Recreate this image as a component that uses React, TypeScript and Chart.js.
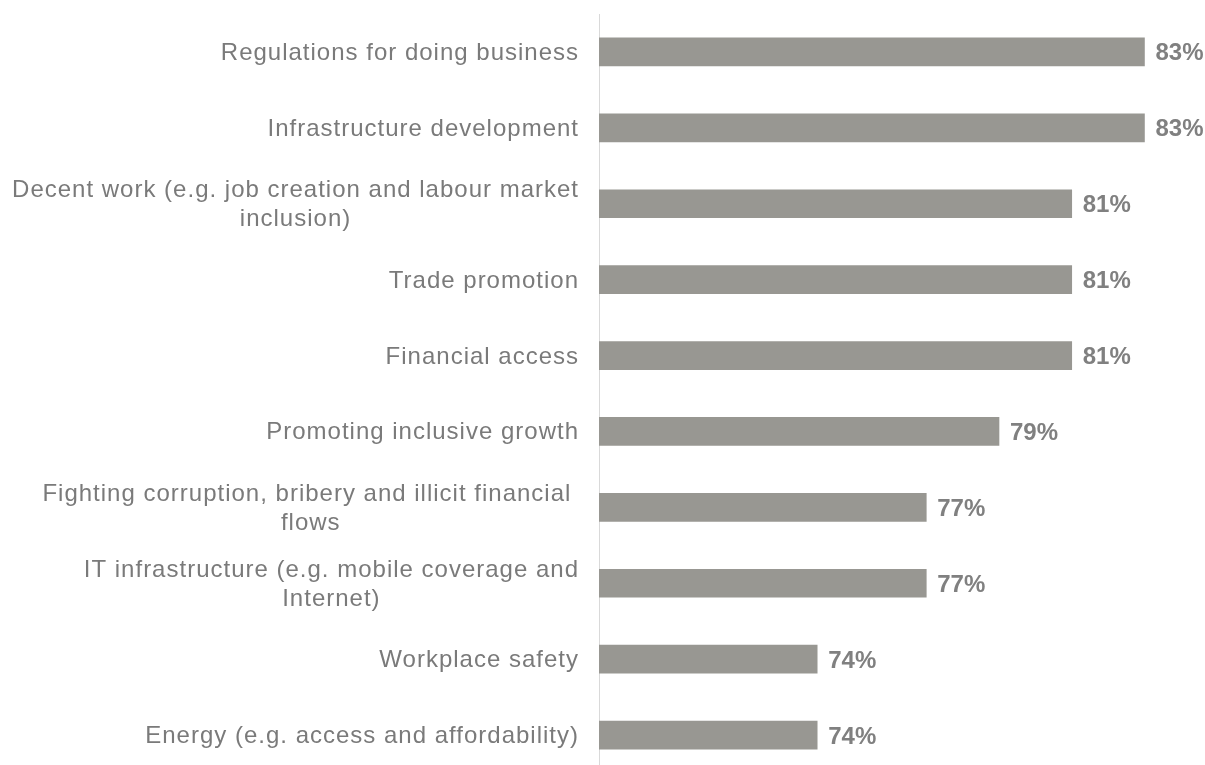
import React, { useEffect, useRef } from "react";
import { Chart, registerables } from "chart.js";

Chart.register(...registerables);

const categories: string[][] = [
  ["Regulations for doing business"],
  ["Infrastructure development"],
  ["Decent work (e.g. job creation and labour market", "inclusion)"],
  ["Trade promotion"],
  ["Financial access"],
  ["Promoting inclusive growth"],
  ["Fighting corruption, bribery and illicit financial ", "flows"],
  ["IT infrastructure (e.g. mobile coverage and", "Internet)"],
  ["Workplace safety"],
  ["Energy (e.g. access and affordability)"],
];
const values: number[] = [83, 83, 81, 81, 81, 79, 77, 77, 74, 74];
const valueLabels: string[] = values.map((v) => v + "%");
const axisMin = 68;
const axisMax = 84.5;

const FONT = "'Liberation Sans', Arial, sans-serif";

const labelPlugin = {
  id: "customLabels",
  afterDatasetsDraw(chart: any) {
    const ctx = chart.ctx;
    const yScale = chart.scales.y;
    const meta = chart.getDatasetMeta(0);
    ctx.save();
    ctx.textBaseline = "alphabetic";

    // category labels
    ctx.letterSpacing = "1px";
    ctx.font = "24px " + FONT;
    ctx.fillStyle = "#7a7a7a";
    const rightEdge = yScale.right - 20;
    categories.forEach((lines, i) => {
      const cy = yScale.getPixelForTick(i);
      const widths = lines.map((l) => ctx.measureText(l).width);
      const blockW = Math.max(...widths);
      const center = rightEdge - blockW / 2;
      const lh = 29;
      lines.forEach((l, j) => {
        ctx.textAlign = "center";
        ctx.fillText(l, center, cy + 8 + (j - (lines.length - 1) / 2) * lh);
      });
    });

    // value labels
    ctx.letterSpacing = "0px";
    ctx.font = "bold 24px " + FONT;
    ctx.fillStyle = "#808080";
    ctx.textAlign = "left";
    meta.data.forEach((el: any, i: number) => {
      ctx.fillText(valueLabels[i], el.x + 11, el.y + 8.5);
    });
    ctx.restore();
  },
};

export default function App() {
  const ref = useRef<HTMLCanvasElement | null>(null);
  useEffect(() => {
    if (!ref.current) return;
    const chart = new Chart(ref.current, {
      type: "bar",
      data: {
        labels: categories.map((c) => c.join(" ")),
        datasets: [
          {
            data: values,
            backgroundColor: "#989792",
            borderWidth: 0,
            barThickness: 28,
          },
        ],
      },
      options: {
        indexAxis: "y",
        animation: false,
        responsive: false,
        devicePixelRatio: 1,
        layout: { padding: { top: 14, bottom: 2, left: 0, right: 6 } },
        plugins: {
          legend: { display: false },
          tooltip: { enabled: false },
        },
        scales: {
          x: {
            display: false,
            min: axisMin,
            max: axisMax,
          },
          y: {
            display: true,
            ticks: { display: false },
            grid: { display: false },
            border: { display: true, color: "#d9d9d9", width: 1 },
            afterFit: (scale: any) => {
              scale.width = 599;
            },
          },
        },
      },
      plugins: [labelPlugin],
    } as any);
    return () => chart.destroy();
  }, []);
  return (
    <div
      style={{
        position: "absolute",
        left: 0,
        top: 0,
        width: 1205,
        height: 765,
        overflow: "hidden",
        background: "#ffffff",
      }}
    >
      <canvas ref={ref} width={1205} height={775} style={{ display: "block" }} />
    </div>
  );
}
